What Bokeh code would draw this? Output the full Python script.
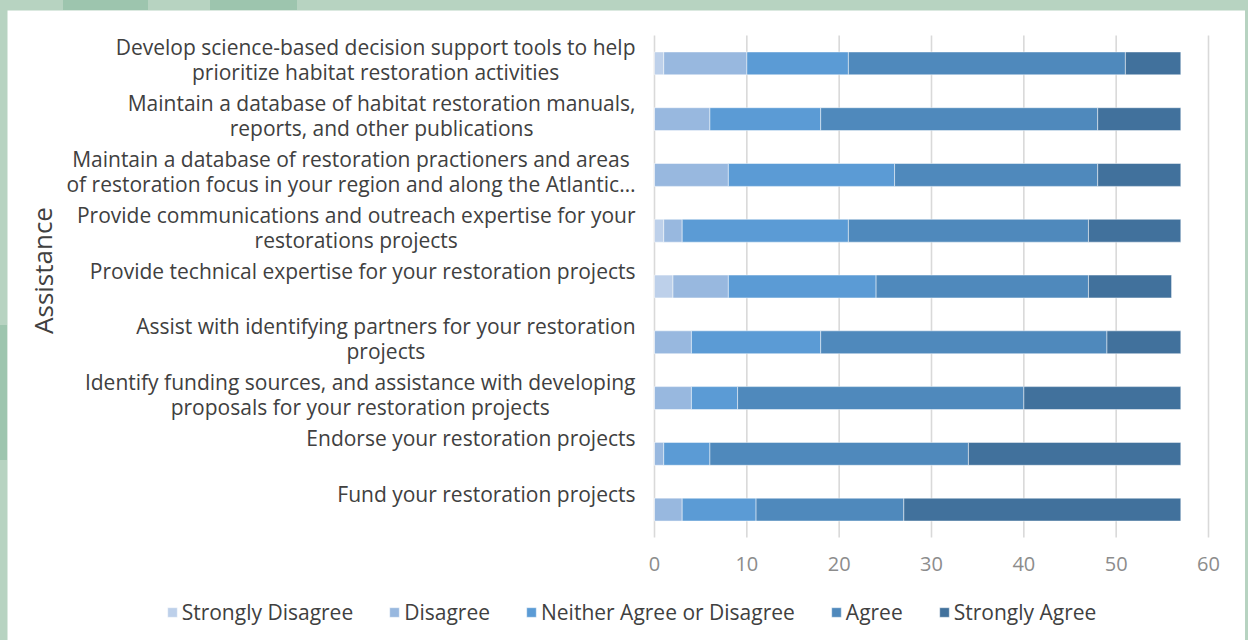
import glob
import subprocess

from PIL import ImageFont
from bokeh.core.properties import value
from bokeh.embed import file_html
from bokeh.layouts import column
from bokeh.models import ColumnDataSource, Label, Legend, LegendItem, Range1d
from bokeh.plotting import figure
from bokeh.resources import INLINE

# ---- survey data -----------------------------------------------------------
categories = [
    "Develop science-based decision support tools to help\nprioritize habitat restoration activities",
    "Maintain a database of habitat restoration manuals,\nreports, and other publications",
    "Maintain a database of restoration practioners and areas\nof restoration focus in your region and along the Atlantic\u2026",
    "Provide communications and outreach expertise for your\nrestorations projects",
    "Provide technical expertise for your restoration projects",
    "Assist with identifying partners for your restoration\nprojects",
    "Identify funding sources, and assistance with developing\nproposals for your restoration projects",
    "Endorse your restoration projects",
    "Fund your restoration projects",
]
responses = ["Strongly Disagree", "Disagree", "Neither Agree or Disagree",
             "Agree", "Strongly Agree"]
strongly_disagree = [1, 0, 0, 1, 2, 0, 0, 0, 0]
disagree = [9, 6, 8, 2, 6, 4, 4, 1, 3]
neither = [11, 12, 18, 18, 16, 14, 5, 5, 8]
agree = [30, 30, 22, 26, 23, 31, 31, 28, 16]
strongly_agree = [6, 9, 9, 10, 9, 8, 17, 23, 30]
x_ticks = [0, 10, 20, 30, 40, 50, 60]
axis_title = "Assistance"

# ---- styling ---------------------------------------------------------------
COLORS = ["#bdd0ea", "#98b8df", "#5b9bd5", "#4f89bc", "#41719c"]
FONT = "Open Sans"
TEXT = "#404040"
LABEL_PX = 21
LEGEND_PX = 21
TICK_PX = 20
LINE_GAP = 25

# canvas and plotting-area geometry (pixels)
W, H = 1238, 630
PAD_L, PAD_R, PAD_T, PAD_B = 647, 37, 25, 103

def _font_file(name):
    try:
        out = subprocess.run(["fc-match", "-f", "%{file}", name],
                             capture_output=True, text=True).stdout.strip()
        if out:
            return out
    except Exception:
        pass
    hits = glob.glob("/usr/share/fonts/**/OpenSans*.ttf", recursive=True)
    return hits[0] if hits else None

_path = _font_file(FONT)

def text_width(s, size):
    if _path:
        try:
            return ImageFont.truetype(_path, size).getlength(s)
        except Exception:
            pass
    return 0.55 * size * len(s)

# ---- scales: bars occupy the inner area, the rest holds the labels ----------
n = len(categories)
x_lo, x_hi = x_ticks[0], x_ticks[-1]
px_x = (W - PAD_L - PAD_R) / (x_hi - x_lo)
px_y = (H - PAD_T - PAD_B) / n
x_range = Range1d(x_lo - PAD_L / px_x, x_hi + PAD_R / px_x)
y_range = Range1d(-PAD_B / px_y, n + PAD_T / px_y)

ypos = [n - 0.5 - i for i in range(n)]
keys = ["sd", "d", "n", "a", "sa"]
source = ColumnDataSource(dict(y=ypos, sd=strongly_disagree, d=disagree,
                               n=neither, a=agree, sa=strongly_agree))

p = figure(width=W, height=H, output_backend="svg", toolbar_location=None,
           x_range=x_range, y_range=y_range, min_border=0,
           background_fill_color="white", border_fill_color="white",
           outline_line_color=None)
p.axis.visible = False
p.grid.visible = False

# vertical gridlines at the tick values
p.segment(x0=x_ticks, y0=[0] * len(x_ticks), x1=x_ticks, y1=[n] * len(x_ticks),
          line_color="#d9d9d9", line_width=1.6)

renderers = p.hbar_stack(keys, y="y", height=0.41, color=COLORS, source=source,
                         line_color="white", line_width=0.8, line_alpha=0.6)

# tick labels under the bars
p.text(x=x_ticks, y=[0] * len(x_ticks), text=[str(t) for t in x_ticks],
       y_offset=19, text_align="center", text_baseline="top",
       text_font=value(FONT), text_font_size=value(f"{TICK_PX}px"),
       text_color="#8c8c8c")

# category labels: block right-aligned, wrapped lines centred on each other
lx, ly, lt, lxo, lyo = [], [], [], [], []
for yc, cat in zip(ypos, categories):
    lines = cat.split("\n")
    w = max(text_width(s, LABEL_PX) for s in lines)
    for k, s in enumerate(lines):
        lx.append(x_lo)
        ly.append(yc)
        lt.append(s)
        lxo.append(-19 - w / 2)
        lyo.append(-16 + LINE_GAP * k)
p.text(x="x", y="y", text="text", x_offset="xo", y_offset="yo",
       source=ColumnDataSource(dict(x=lx, y=ly, text=lt, xo=lxo, yo=lyo)),
       text_align="center", text_baseline="alphabetic",
       text_font=value(FONT), text_font_size=value(f"{LABEL_PX}px"),
       text_color=TEXT)

# rotated axis title
p.add_layout(Label(x=35, y=370, x_units="screen", y_units="screen",
                   text=axis_title, angle=1.5708, text_align="center",
                   text_baseline="middle", text_font=FONT,
                   text_font_size="26px", text_color=TEXT))

# legend centred under the chart
sw, stand, gap = 12, 4, 35
total = sum(sw + stand + text_width(r, LEGEND_PX) for r in responses) + gap * (len(responses) - 1)
legend = Legend(items=[LegendItem(label=r, renderers=[rr]) for r, rr in zip(responses, renderers)],
                orientation="horizontal", location=(624 - total / 2, 14),
                glyph_width=sw, glyph_height=sw, label_standoff=stand, spacing=gap,
                padding=0, margin=0, border_line_alpha=0, background_fill_alpha=0,
                label_text_font=FONT, label_text_font_size=f"{LEGEND_PX}px",
                label_text_color=TEXT)
p.add_layout(legend)

bg = ("linear-gradient(#9dc5ae,#9dc5ae) 63px 0/85px 10px no-repeat,"
      "linear-gradient(#9dc5ae,#9dc5ae) 210px 0/87px 10px no-repeat,"
      "linear-gradient(#9dc5ae,#9dc5ae) 0 325px/7px 135px no-repeat,"
      "#b7d3c1")
p.margin = (10, 3, 0, 7)
page = column(p, styles={"background": bg}, width=1248, height=640)

open("out.html", "w").write(file_html(page, INLINE))
